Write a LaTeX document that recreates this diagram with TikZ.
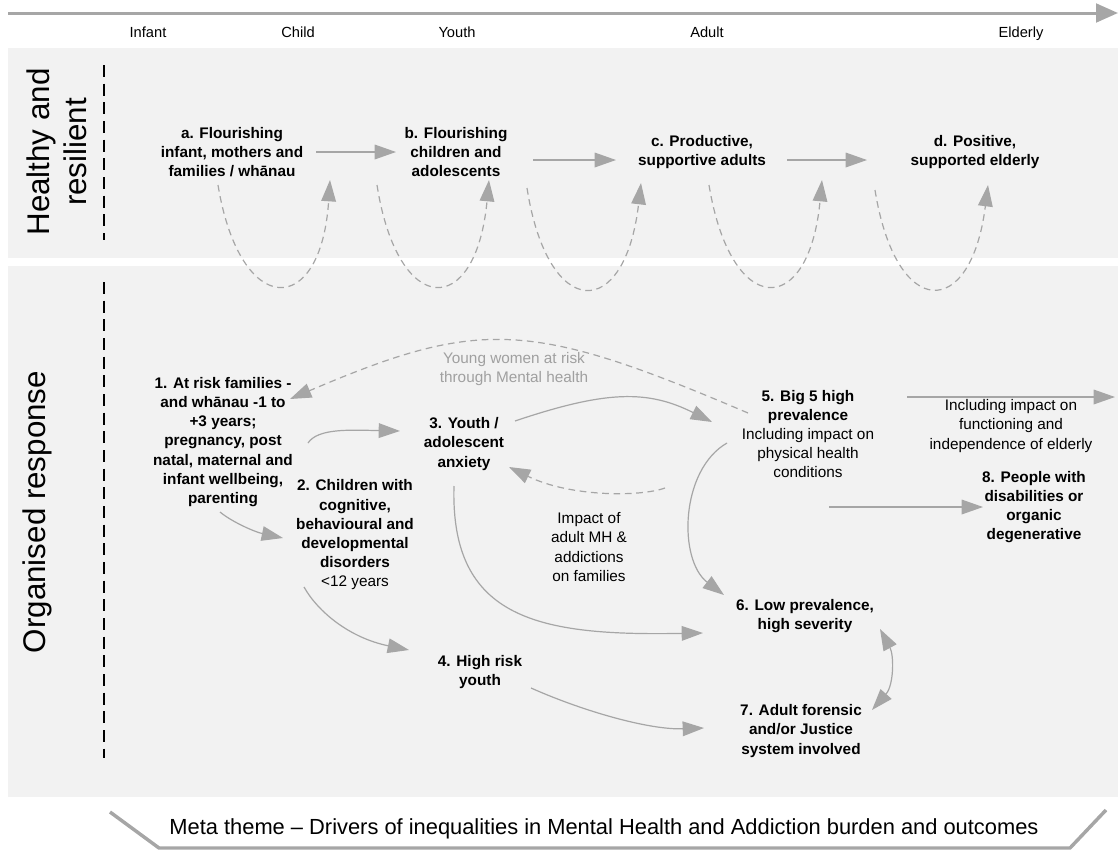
\documentclass[tikz,border=0pt]{standalone}
\usepackage{fontspec}
\setmainfont{Liberation Sans}
\usetikzlibrary{arrows.meta}
\definecolor{band}{HTML}{F2F2F2}
\definecolor{arr}{HTML}{A6A6A6}
\definecolor{wlabel}{HTML}{A0A0A0}
\begin{document}
\begin{tikzpicture}[x=0.75pt,y=-0.75pt,
  >={Triangle[length=16pt,width=11pt]},
  txt/.style={align=center,inner sep=0pt,font=\fontsize{11.5}{14.4}\selectfont},
  btxt/.style={align=center,inner sep=0pt,font=\fontsize{11.5}{14.4}\selectfont\bfseries},
  axlbl/.style={inner sep=0pt,anchor=base,font=\fontsize{11}{13}\selectfont},
  side/.style={align=center,inner sep=0pt,rotate=90,font=\fontsize{23.5}{28}\selectfont},
  conn/.style={draw=arr,line width=0.9pt,->},
  dconn/.style={conn,dash pattern=on 5pt off 3.5pt},
  sepline/.style={draw=black,line width=1.5pt,dash pattern=on 9pt off 5pt},
  axisline/.style={draw=arr,line width=2.25pt,-{Triangle[length=16.5pt,width=14pt]}},
  metaline/.style={draw=arr,line width=2.6pt}
]
\useasboundingbox (0,0) rectangle (1118,850);
% bands
\fill[band] (8,48) rectangle (1118,258);
\fill[band] (8,266) rectangle (1118,797);

% life course axis
\coordinate (axs) at (8,13);
\coordinate (axe) at (1118,13);
\draw[axisline] (axs) -- (axe);
\node[axlbl] (tInf) at (148,37) {Infant};
\node[axlbl] (tChi) at (298,37) {Child};
\node[axlbl] (tYou) at (457,37) {Youth};
\node[axlbl] (tAdu) at (707,37) {Adult};
\node[axlbl] (tEld) at (1021,37) {Elderly};

% side titles
\node[side] (tHR) at (57,152) {Healthy and\\resilient};
\node[side] (tOR) at (37,512) {Organised response};
\draw[sepline] (104,65) -- (104,240);
\draw[sepline] (104,282) -- (104,758);

% healthy and resilient nodes
\node[btxt] (na) at (232,152) {a. Flourishing\\infant, mothers and\\families / wh\=anau};
\node[btxt] (nb) at (456,152) {b. Flourishing\\children and\\adolescents};
\node[btxt] (nc) at (702,152) {c. Productive,\\supportive adults};
\node[btxt] (nd) at (975,152) {d. Positive,\\supported elderly};

\coordinate (ab1) at (316,152); \coordinate (ab2) at (396,152);
\coordinate (bc1) at (533,160); \coordinate (bc2) at (616,160);
\coordinate (cd1) at (787,160); \coordinate (cd2) at (867,160);
\draw[conn] (ab1) -- (ab2);
\draw[conn] (bc1) -- (bc2);
\draw[conn] (cd1) -- (cd2);

% dashed U loops
\coordinate (u1s) at (218,185); \coordinate (u1e) at (330,180);
\coordinate (u2s) at (377,185); \coordinate (u2e) at (489,180);
\coordinate (u3s) at (527,188); \coordinate (u3e) at (641,183);
\coordinate (u4s) at (709,185); \coordinate (u4e) at (822,180);
\coordinate (u5s) at (875,190); \coordinate (u5e) at (988,185);
\draw[dconn] (u1s) .. controls (240,319) and (321,319) .. (u1e);
\draw[dconn] (u2s) .. controls (398,319) and (476,319) .. (u2e);
\draw[dconn] (u3s) .. controls (548,322) and (625,322) .. (u3e);
\draw[dconn] (u4s) .. controls (731,319) and (809,319) .. (u4e);
\draw[dconn] (u5s) .. controls (896,321) and (971,321) .. (u5e);

% organised response nodes
\node[btxt] (n1) at (223,442) {1. At risk families -\\and wh\=anau -1 to\\+3 years;\\pregnancy, post\\natal, maternal and\\infant wellbeing,\\parenting};
\node[btxt] (n2) at (355,535) {2. Children with\\cognitive,\\behavioural and\\developmental\\disorders\\{\mdseries <12 years}};
\node[btxt] (n3) at (464,444) {3. Youth /\\adolescent\\anxiety};
\node[btxt] (n4) at (480,672) {4. High risk\\youth};
\node[btxt] (n5) at (808,434) {5. Big 5 high\\prevalence\\{\mdseries Including impact on}\\{\mdseries physical health}\\{\mdseries conditions}};
\node[btxt] (n6) at (805,616) {6. Low prevalence,\\high severity};
\node[btxt] (n7) at (801,731) {7. Adult forensic\\and/or Justice\\system involved};
\node[btxt] (n8) at (1034,507) {8. People with\\disabilities or\\organic\\degenerative};
\node[txt,text=wlabel] (lyw) at (514,369) {Young women at risk\\through Mental health};
\node[txt] (limp) at (589,547) {Impact of\\adult MH \&\\addictions\\on families};
\node[txt] (lel) at (1011,426) {Including impact on\\functioning and\\independence of elderly};

% connectors
\coordinate (c5a) at (748,413); \coordinate (c1a) at (290,399);
\draw[dconn] (c5a) .. controls (530,320) and (480,318) .. (c1a);

\coordinate (c1b) at (308,443); \coordinate (c3a) at (400,431);
\draw[conn] (c1b) .. controls (318,428) and (350,430) .. (c3a);

\coordinate (c1c) at (220,512); \coordinate (c2a) at (283,538);
\draw[conn] (c1c) .. controls (232,522) and (255,532) .. (c2a);

\coordinate (c3b) at (515,421); \coordinate (c5b) at (712,422);
\draw[conn] (c3b) .. controls (607,390) and (648,390) .. (c5b);

\coordinate (c5c) at (665,488); \coordinate (c3c) at (509,467);
\draw[dconn] (c5c) .. controls (640,497) and (570,497) .. (c3c);

\coordinate (c3d) at (454,486); \coordinate (c6a) at (703,633);
\draw[conn] (c3d) .. controls (450,620) and (540,636) .. (c6a);

\coordinate (c5d) at (727,443); \coordinate (c6b) at (724,595);
\draw[conn] (c5d) .. controls (680,470) and (678,560) .. (c6b);

\coordinate (c5e) at (907,397); \coordinate (cout) at (1115,397);
\draw[conn] (c5e) -- (cout);

\coordinate (c5f) at (829,507); \coordinate (c8a) at (983,507);
\draw[conn] (c5f) -- (c8a);

\coordinate (c2b) at (304,587); \coordinate (c4a) at (409,650);
\draw[conn] (c2b) .. controls (318,612) and (350,638) .. (c4a);

\coordinate (c4b) at (531,688); \coordinate (c7a) at (704,728);
\draw[conn] (c4b) .. controls (585,712) and (650,730) .. (c7a);

\coordinate (c6c) at (880,629); \coordinate (c7b) at (872,710);
\draw[conn,<->] (c6c) .. controls (894,655) and (894,685) .. (c7b);

% meta theme
\coordinate (mtl) at (110,812); \coordinate (mbl) at (159,848);
\coordinate (mbr) at (1070,848); \coordinate (mtr) at (1106,810);
\draw[metaline] (mtl) -- (mbl) -- (mbr) -- (mtr);
\node[inner sep=0pt,font=\fontsize{16.4}{19}\selectfont] (meta) at (604,829) {Meta theme \textendash{} Drivers of inequalities in Mental Health and Addiction burden and outcomes};
\end{tikzpicture}
\end{document}
